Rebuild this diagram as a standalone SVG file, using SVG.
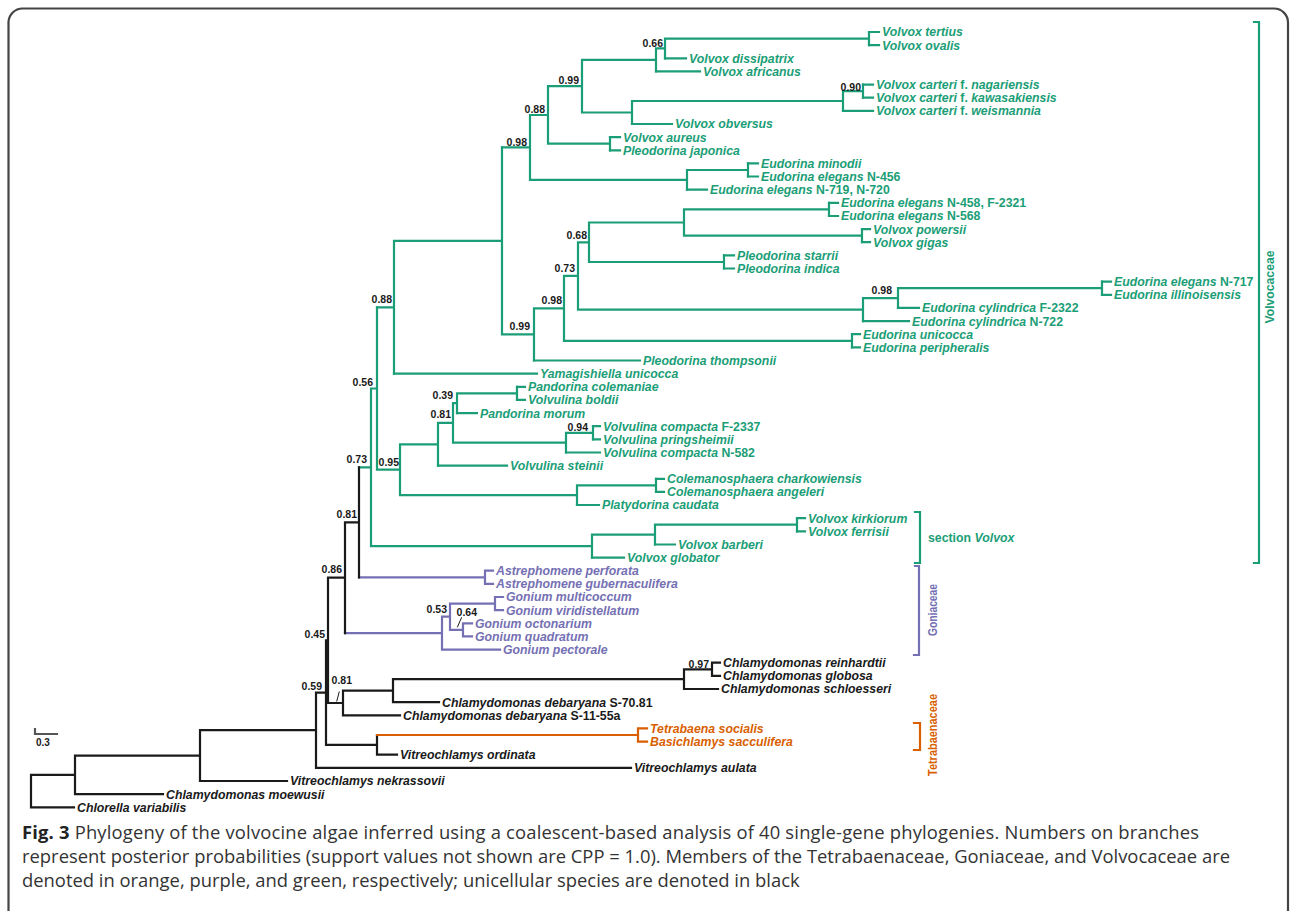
<svg xmlns="http://www.w3.org/2000/svg" width="1290" height="911" viewBox="0 0 1290 911">
<style>
path{fill:none;stroke-width:2.2;stroke-linecap:square}
.g{stroke:#1b9e77}.p{stroke:#7570b3}.o{stroke:#d95f02}.k{stroke:#1a1a1a}
text{font-family:"Liberation Sans",Arial,sans-serif;font-weight:bold}
.t{font-style:italic;font-size:12.3px}
.n{font-style:normal}
.tg{fill:#1b9e77}.tp{fill:#7570b3}.to{fill:#d95f02}.tk{fill:#1a1a1a}
.s{font-size:10.5px;fill:#1a1a1a;text-anchor:end}
.fam{font-family:"Liberation Sans Narrow","Liberation Sans",Arial,sans-serif;font-size:13px}
.cap{font-family:"Open Sans","DejaVu Sans",sans-serif;font-weight:normal;font-size:18.4px;fill:#333}
</style>
<path d="M8.5,911V22A14,14 0 0 1 22.5,8.5H1274A14,14 0 0 1 1288,22.5V911" stroke="#444" stroke-width="1.6" fill="none"/>
<g id="connectors">
<path class="g" d="M665,38.6H869M869,32V45.1M656,48.4H665M665,38.6V58.3M582,59.9H656M656,48.4V71.4M843,91.2H863M863,84.6V97.7M632,101H843M843,91.2V110.8M582,112.5H632M632,101V124M548,86.2H582M582,59.9V112.5M548,143.7H610M610,137.1V150.3M530,115H548M548,86.2V143.7M687,170H748M748,163.4V176.5M530,179.8H687M687,170V189.7M502,147.4H530M530,115V179.8"/>
<path class="g" d="M684,209.4H829M829,202.8V216M684,235.7H862M862,229.1V242.2M589,222.5H684M684,209.4V235.7M589,262H724M724,255.4V268.5M578,242.3H589M589,222.5V262M898,288.2H1102M1102,281.7V294.8M863,298.1H898M898,288.2V307.9M578,309.6H863M863,298.1V321.1M564,275.9H578M578,242.3V309.6M564,340.8H852M852,334.2V347.4M534,308.4H564M564,275.9V340.8M502,334.4H534M534,308.4V360.5M394,240.9H502M502,147.4V334.4M377,307.3H394M394,240.9V373.6"/>
<path class="g" d="M457,393.3H517M517,386.8V399.9M453,403.2H457M457,393.3V413.1M566,432.8H593M593,426.2V439.3M453,442.6H566M566,432.8V452.5M438,422.9H453M453,403.2V442.6M400,444.3H438M438,422.9V465.6M577,485.3H656M656,478.8V491.9M400,495.2H577M577,485.3V505M377,469.7H400M400,444.3V495.2M371,388.5H377M377,307.3V469.7M655,524.7H797M797,518.2V531.3M592,534.6H655M655,524.7V544.5M371,546.1H592M592,534.6V557.6M359,467.3H371M371,388.5V546.1"/>
<path class="g" d="M869,32H879M869,45.1H879M665,58.3H686M656,71.4H700M863,84.6H873M863,97.7H873M843,110.8H873M632,124H672M610,137.1H620M610,150.3H620M748,163.4H758M748,176.5H758M687,189.7H707M829,202.8H838M829,216H838M862,229.1H870M862,242.2H870M724,255.4H734M724,268.5H734M1102,281.7H1111M1102,294.8H1111M898,307.9H919M863,321.1H909M852,334.2H860M852,347.4H860M534,360.5H640M394,373.6H537M517,386.8H525M517,399.9H525M457,413.1H477M593,426.2H600M593,439.3H600M566,452.5H600M438,465.6H507M656,478.8H664M656,491.9H664M577,505H599M797,518.2H805M797,531.3H805M655,544.5H675M592,557.6H624"/>
<path class="p" d="M359,577.3H485M485,570.7V583.9M485,570.7H493M485,583.9H493M450,603.6H495M495,597V610.2M495,597H503M495,610.2H503M450,629.9H463M463,623.3V636.4M463,623.3H472M463,636.4H472M442,616.7H450M450,603.6V629.9M345,633.2H442M442,616.7V649.6M442,649.6H500"/>
<path class="k" d="M359,467.3V577.3M345,522.3H359M345,522.3V633.2M328,577.7H345M684,669.3H712M712,662.7V675.9M712,662.7H720M712,675.9H720M393,679.1H684M684,669.3V689M684,689H718M343,690.6H393M393,679.1V702.1M393,702.1H439M328,703H343M343,690.6V715.3M343,715.3H400M326,640.3H328M328,577.7V703M377,754.7H397M326,744.8H377M377,735V754.7M316,692.6H326M326,640.3V744.8M316,767.8H631M200,730.2H316M316,692.6V767.8M200,781H287M75,755.6H200M200,730.2V781M75,794.1H163M31,774.9H75M75,755.6V794.1M31,807.3H74M31,774.9V807.3"/>
<path class="o" d="M377,735H638M638,728.4V741.6M638,728.4H647M638,741.6H647"/>
<path class="k" style="stroke-width:1;stroke-linecap:butt" d="M461.7,617.3L457.3,627.3M339.3,691.5L336.7,701.5"/>
</g>
<g id="brackets">
<path class="g" d="M1254,22H1259V563H1254"/>
<path class="g" d="M915,512H920V563H915"/>
<path class="p" d="M915,566H919V655H914"/>
<path class="o" d="M914,723H920V750H914"/>
</g>
<g id="clade-labels">
<g id="lbl-volvocaceae"><text class="fam tg" transform="translate(1273.5,287) rotate(-90)" text-anchor="middle" textLength="73" lengthAdjust="spacingAndGlyphs">Volvocaceae</text></g>
<g id="lbl-section-volvox"><text class="tg" x="928" y="541.5" font-size="12.3">section <tspan font-style="italic">Volvox</tspan></text></g>
<g id="lbl-goniaceae"><text class="fam tp" transform="translate(936.5,610) rotate(-90)" text-anchor="middle" textLength="52" lengthAdjust="spacingAndGlyphs">Goniaceae</text></g>
<g id="lbl-tetrabaenaceae"><text class="fam to" transform="translate(936.5,735) rotate(-90)" text-anchor="middle" textLength="82" lengthAdjust="spacingAndGlyphs">Tetrabaenaceae</text></g>
</g>
<g id="tips">
<g id="t1"><text class="t tg" x="882" y="36.4">Volvox tertius</text></g>
<g id="t2"><text class="t tg" x="882" y="49.5">Volvox ovalis</text></g>
<g id="t3"><text class="t tg" x="689" y="62.7">Volvox dissipatrix</text></g>
<g id="t4"><text class="t tg" x="703" y="75.8">Volvox africanus</text></g>
<g id="t5"><text class="t tg" x="876" y="89">Volvox carteri <tspan class="n">f.</tspan> nagariensis</text></g>
<g id="t6"><text class="t tg" x="876" y="102.1">Volvox carteri <tspan class="n">f.</tspan> kawasakiensis</text></g>
<g id="t7"><text class="t tg" x="876" y="115.2">Volvox carteri <tspan class="n">f.</tspan> weismannia</text></g>
<g id="t8"><text class="t tg" x="675" y="128.4">Volvox obversus</text></g>
<g id="t9"><text class="t tg" x="623" y="141.5">Volvox aureus</text></g>
<g id="t10"><text class="t tg" x="623" y="154.7">Pleodorina japonica</text></g>
<g id="t11"><text class="t tg" x="761" y="167.8">Eudorina minodii</text></g>
<g id="t12"><text class="t tg" x="761" y="180.9">Eudorina elegans <tspan class="n">N-456</tspan></text></g>
<g id="t13"><text class="t tg" x="710" y="194.1">Eudorina elegans <tspan class="n">N-719, N-720</tspan></text></g>
<g id="t14"><text class="t tg" x="841" y="207.2">Eudorina elegans <tspan class="n">N-458, F-2321</tspan></text></g>
<g id="t15"><text class="t tg" x="841" y="220.4">Eudorina elegans <tspan class="n">N-568</tspan></text></g>
<g id="t16"><text class="t tg" x="873" y="233.5">Volvox powersii</text></g>
<g id="t17"><text class="t tg" x="873" y="246.6">Volvox gigas</text></g>
<g id="t18"><text class="t tg" x="737" y="259.8">Pleodorina starrii</text></g>
<g id="t19"><text class="t tg" x="737" y="272.9">Pleodorina indica</text></g>
<g id="t20"><text class="t tg" x="1114" y="286.1">Eudorina elegans <tspan class="n">N-717</tspan></text></g>
<g id="t21"><text class="t tg" x="1114" y="299.2">Eudorina illinoisensis</text></g>
<g id="t22"><text class="t tg" x="922" y="312.3">Eudorina cylindrica <tspan class="n">F-2322</tspan></text></g>
<g id="t23"><text class="t tg" x="912" y="325.5">Eudorina cylindrica <tspan class="n">N-722</tspan></text></g>
<g id="t24"><text class="t tg" x="863" y="338.6">Eudorina unicocca</text></g>
<g id="t25"><text class="t tg" x="863" y="351.8">Eudorina peripheralis</text></g>
<g id="t26"><text class="t tg" x="643" y="364.9">Pleodorina thompsonii</text></g>
<g id="t27"><text class="t tg" x="540" y="378">Yamagishiella unicocca</text></g>
<g id="t28"><text class="t tg" x="528" y="391.2">Pandorina colemaniae</text></g>
<g id="t29"><text class="t tg" x="528" y="404.3">Volvulina boldii</text></g>
<g id="t30"><text class="t tg" x="480" y="417.5">Pandorina morum</text></g>
<g id="t31"><text class="t tg" x="603" y="430.6">Volvulina compacta <tspan class="n">F-2337</tspan></text></g>
<g id="t32"><text class="t tg" x="603" y="443.7">Volvulina pringsheimii</text></g>
<g id="t33"><text class="t tg" x="603" y="456.9">Volvulina compacta <tspan class="n">N-582</tspan></text></g>
<g id="t34"><text class="t tg" x="510" y="470">Volvulina steinii</text></g>
<g id="t35"><text class="t tg" x="667" y="483.2">Colemanosphaera charkowiensis</text></g>
<g id="t36"><text class="t tg" x="667" y="496.3">Colemanosphaera angeleri</text></g>
<g id="t37"><text class="t tg" x="602" y="509.4">Platydorina caudata</text></g>
<g id="t38"><text class="t tg" x="808" y="522.6">Volvox kirkiorum</text></g>
<g id="t39"><text class="t tg" x="808" y="535.7">Volvox ferrisii</text></g>
<g id="t40"><text class="t tg" x="678" y="548.9">Volvox barberi</text></g>
<g id="t41"><text class="t tg" x="627" y="562">Volvox globator</text></g>
<g id="t42"><text class="t tp" x="496" y="575.1">Astrephomene perforata</text></g>
<g id="t43"><text class="t tp" x="496" y="588.3">Astrephomene gubernaculifera</text></g>
<g id="t44"><text class="t tp" x="506" y="601.4">Gonium multicoccum</text></g>
<g id="t45"><text class="t tp" x="506" y="614.6">Gonium viridistellatum</text></g>
<g id="t46"><text class="t tp" x="475" y="627.7">Gonium octonarium</text></g>
<g id="t47"><text class="t tp" x="475" y="640.8">Gonium quadratum</text></g>
<g id="t48"><text class="t tp" x="503" y="654">Gonium pectorale</text></g>
<g id="t49"><text class="t tk" x="723" y="667.1">Chlamydomonas reinhardtii</text></g>
<g id="t50"><text class="t tk" x="723" y="680.3">Chlamydomonas globosa</text></g>
<g id="t51"><text class="t tk" x="721" y="693.4">Chlamydomonas schloesseri</text></g>
<g id="t52"><text class="t tk" x="442" y="706.5">Chlamydomonas debaryana <tspan class="n">S-70.81</tspan></text></g>
<g id="t53"><text class="t tk" x="403" y="719.7">Chlamydomonas debaryana <tspan class="n">S-11-55a</tspan></text></g>
<g id="t54"><text class="t to" x="650" y="732.8">Tetrabaena socialis</text></g>
<g id="t55"><text class="t to" x="650" y="746">Basichlamys sacculifera</text></g>
<g id="t56"><text class="t tk" x="400" y="759.1">Vitreochlamys ordinata</text></g>
<g id="t57"><text class="t tk" x="634" y="772.2">Vitreochlamys aulata</text></g>
<g id="t58"><text class="t tk" x="290" y="785.4">Vitreochlamys nekrassovii</text></g>
<g id="t59"><text class="t tk" x="166" y="798.5">Chlamydomonas moewusii</text></g>
<g id="t60"><text class="t tk" x="77" y="811.7">Chlorella variabilis</text></g>
</g>
<g id="support">
<text class="s" x="663" y="46.8">0.66</text>
<text class="s" x="579" y="84" font-size="8.5">0.99</text>
<text class="s" x="545" y="112.8">0.88</text>
<text class="s" x="527" y="145.5">0.98</text>
<text class="s" x="861" y="90.8">0.90</text>
<text class="s" x="587" y="238.8">0.68</text>
<text class="s" x="575" y="271.8">0.73</text>
<text class="s" x="892" y="293.8">0.98</text>
<text class="s" x="562" y="303.8">0.98</text>
<text class="s" x="392" y="302.8">0.88</text>
<text class="s" x="530" y="329.8">0.99</text>
<text class="s" x="373" y="385.8">0.56</text>
<text class="s" x="453" y="398.8">0.39</text>
<text class="s" x="451" y="417.8">0.81</text>
<text class="s" x="588" y="430.8">0.94</text>
<text class="s" x="367" y="462.8">0.73</text>
<text class="s" x="399" y="465.8">0.95</text>
<text class="s" x="357" y="517.8">0.81</text>
<text class="s" x="342" y="572.8">0.86</text>
<text class="s" x="447" y="612.8">0.53</text>
<text class="s" x="477" y="615.8">0.64</text>
<text class="s" x="325" y="637.8">0.45</text>
<text class="s" x="709" y="667.8">0.97</text>
<text class="s" x="352" y="683.8">0.81</text>
<text class="s" x="322" y="689.8">0.59</text>
</g>
<g id="scale-bar">
<path d="M35,729V734H57" stroke="#555" stroke-width="1" stroke-linecap="butt"/>
<text x="36" y="746" font-size="10" fill="#1a1a1a">0.3</text>
</g>
<g id="caption">
<text class="cap" x="22" y="839" textLength="1177" lengthAdjust="spacing"><tspan font-weight="bold" fill="#222">Fig. 3</tspan> Phylogeny of the volvocine algae inferred using a coalescent-based analysis of 40 single-gene phylogenies. Numbers on branches</text>
<text class="cap" x="22" y="863" textLength="1208" lengthAdjust="spacing">represent posterior probabilities (support values not shown are CPP = 1.0). Members of the Tetrabaenaceae, Goniaceae, and Volvocaceae are</text>
<text class="cap" x="22" y="887">denoted in orange, purple, and green, respectively; unicellular species are denoted in black</text>
</g>
</svg>
